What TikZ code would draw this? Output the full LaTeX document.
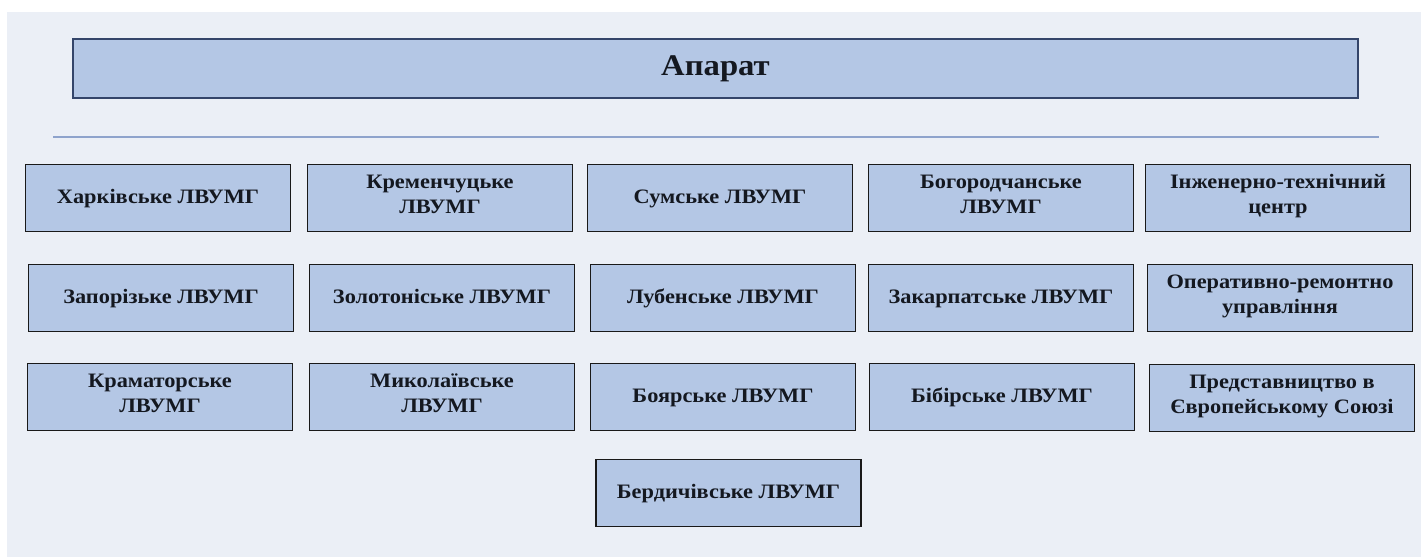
\documentclass[tikz,border=0pt]{standalone}
\usepackage{fontspec}
\setmainfont[FakeStretch=1.09]{Liberation Serif}
\usetikzlibrary{positioning}
\definecolor{bgcol}{HTML}{EBEFF6}
\definecolor{boxcol}{HTML}{B4C7E5}
\definecolor{sepcol}{HTML}{8EA3CC}
\definecolor{topedge}{HTML}{34456A}
\definecolor{txtcol}{HTML}{141820}
\tikzset{
	unit/.style={draw=black!90, line width=1.4pt, fill=boxcol, text=txtcol,
		minimum width=265pt, minimum height=67pt, inner sep=0pt, align=center,
		font=\bfseries\fontsize{20.5}{25}\selectfont,
		execute at begin node=\strut, execute at end node=\strut},
	head/.style={draw=topedge, line width=1.6pt, fill=boxcol, text=txtcol,
		minimum width=1285pt, minimum height=59pt, inner sep=0pt,
		font=\bfseries\fontsize{30}{36}\selectfont},
	sep/.style={draw=sepcol, line width=1.2pt}
}
\begin{document}
\begin{tikzpicture}[x=1pt, y=-1pt]
	\useasboundingbox (0,0) rectangle (1421,557);
	\fill[white] (0,0) rectangle (1421,557);
	\fill[bgcol] (7,12) rectangle (1421,557);
	\node (ap) [head] at (715.5,68.5) {Апарат};
	\coordinate (sl) at (53,137);
	\coordinate (sr) at (1379,137);
	\draw[sep] (sl) -- (sr);
	% first row
	\node (kh) [unit] at (158,198) {Харківське ЛВУМГ};
	\node (kr) [unit] at (440,198) {Кременчуцьке\\ЛВУМГ};
	\node (su) [unit] at (720,198) {Сумське ЛВУМГ};
	\node (bo) [unit] at (1001,198) {Богородчанське\\ЛВУМГ};
	\node (it) [unit] at (1278,198) {Інженерно-технічний\\центр};
	% second row
	\node (za) [unit] at (161,298) {Запорізьке ЛВУМГ};
	\node (zo) [unit] at (442,298) {Золотоніське ЛВУМГ};
	\node (lu) [unit] at (723,298) {Лубенське ЛВУМГ};
	\node (zk) [unit] at (1001,298) {Закарпатське ЛВУМГ};
	\node (or) [unit] at (1280,298) {Оперативно-ремонтно\\управління};
	% third row
	\node (km) [unit] at (160,397) {Краматорське\\ЛВУМГ};
	\node (mk) [unit] at (442,397) {Миколаївське\\ЛВУМГ};
	\node (by) [unit] at (723,397) {Боярське ЛВУМГ};
	\node (bi) [unit] at (1002,397) {Бібірське ЛВУМГ};
	\node (pr) [unit] at (1282,398) {Представництво в\\Європейському Союзі};
	% last row
	\node (be) [unit] at (728.5,493) {Бердичівське ЛВУМГ};
\end{tikzpicture}
\end{document}
